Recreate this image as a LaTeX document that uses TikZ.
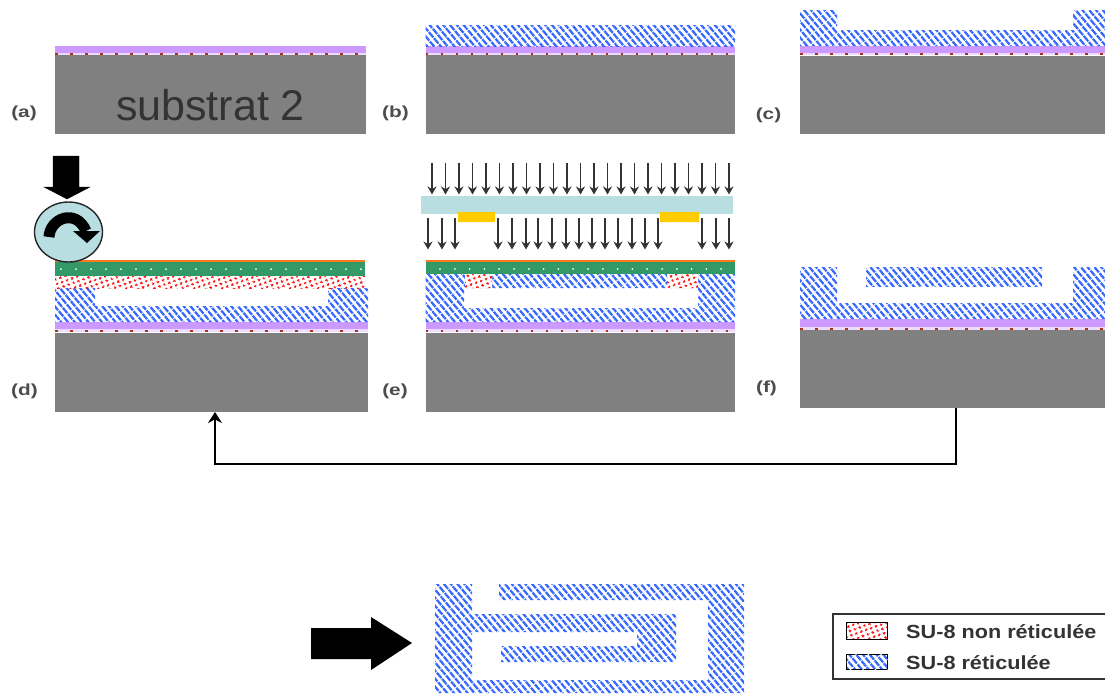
\documentclass[tikz,border=0pt]{standalone}
\usepackage{fontspec}
\setmainfont{Liberation Sans}
\usetikzlibrary{patterns.meta,arrows.meta,shapes.geometric}
\definecolor{subgray}{RGB}{128,128,128}
\definecolor{lilac}{RGB}{204,153,255}
\definecolor{hatchblue}{RGB}{51,102,255}
\definecolor{sealgreen}{RGB}{51,153,102}
\definecolor{maskblue}{RGB}{184,222,226}
\definecolor{maskgold}{RGB}{255,204,0}
\definecolor{topline}{RGB}{255,120,30}
\definecolor{seedred}{RGB}{170,50,20}
\begin{document}
\begin{tikzpicture}[x=1pt,y=-1pt,line width=.35pt,
  sub/.style={fill=subgray},
  lil/.style={fill=lilac},
  cured/.style={pattern={Lines[angle=-50,distance=5.2pt,line width=2.2pt]},pattern color=hatchblue,
    postaction={pattern={Lines[angle=40,distance=8pt,line width=.8pt]},pattern color=white}},
  uncured/.style={pattern={Dots[angle=20,distance=5.4pt,radius=1.7pt]},pattern color=red},
  seed/.style={draw=seedred,line width=2pt,dash pattern=on 2.5pt off 12.5pt},
  tag/.style={font=\fontsize{16}{18}\selectfont\bfseries,text=black!70,inner sep=0pt,xscale=1.3,transform shape},
  legtext/.style={font=\fontsize{19}{21}\selectfont\bfseries,text=black!80,inner sep=0pt,anchor=west,xscale=1.14,transform shape},
  swatch/.style={draw=black,line width=1pt,minimum width=41pt,inner sep=0pt},
  ray/.style={line width=1.8pt,black!80,-{Stealth[length=8pt,width=9pt]}}]
\useasboundingbox (0,0) rectangle (1105,694);
% (a)
\fill[sub] (55,55) rectangle (366,134);
\fill[lil] (55,46) rectangle (366,53);
\fill[lilac!35] (55,53) rectangle (366,55);
\draw[seed] (55,54)--(366,54);
\node[font=\fontsize{43}{46}\selectfont,text=black!80,inner sep=0pt] (subtxt) at (210.5,105) {substrat 2};
\node[tag] (la) at (24,113) {(a)};
% (b)
\fill[sub] (425.5,55) rectangle (735,134);
\fill[lil] (425.5,46) rectangle (735,53);
\fill[lilac!35] (425.5,53) rectangle (735,55);
\draw[seed] (425.5,54)--(735,54);
\fill[cured] (425.5,25) rectangle (735,46);
\node[tag] (lb) at (395.5,113) {(b)};
% (c)
\fill[sub] (800,56) rectangle (1105,134);
\fill[lil] (800,46) rectangle (1105,53);
\fill[lilac!35] (800,53) rectangle (1105,55);
\draw[seed] (800,54)--(1105,54);
\fill[cured] (800,10)--(837,10)--(837,30)--(1073,30)--(1073,10)--(1105,10)--(1105,46)--(800,46)--cycle;
\node[tag] (lc) at (768.5,115) {(c)};
% (d)
\fill[sub] (55,333) rectangle (368,412);
\fill[lil] (55,322) rectangle (368,329);
\fill[lilac!35] (55,329) rectangle (368,332);
\draw[seed] (55,331)--(368,331);
\fill[cured] (55,288)--(95,288)--(95,306)--(328,306)--(328,288)--(368,288)--(368,322)--(55,322)--cycle;
\fill[uncured] (55,276) rectangle (365,288);
\fill[sealgreen] (55,262) rectangle (365,276);
\fill[topline] (55,260) rectangle (365,262);
\foreach \i in {0,...,20} \fill[white] (61+\i*15,269) circle (1pt);
\node[tag] (ld) at (24.5,391) {(d)};
\draw[fill=black] (53,156)--(79,156)--(79,187)--(90,187)--(67,199)--(44,187)--(53,187)--cycle;
\node[ellipse,draw=black!85,line width=1.4pt,fill=maskblue,minimum width=68pt,minimum height=60pt,inner sep=0pt] (roll) at (68.5,232) {};
\draw[line width=11pt] (49,237) .. controls (50,218) and (76,208) .. (86,231);
\fill (100,231)--(87,243)--(73,231)--cycle;
% (e)
\fill[sub] (425.5,333) rectangle (735,412);
\fill[lil] (425.5,322) rectangle (735,329);
\fill[lilac!35] (425.5,329) rectangle (735,332);
\draw[seed] (425.5,331)--(735,331);
\fill[cured] (425.5,274)--(735,274)--(735,322)--(425.5,322)--(425.5,274)
  (464,288)--(464,308)--(698,308)--(698,288)--cycle;
\fill[white] (465,274) rectangle (492,288) (667,274) rectangle (698,288);
\fill[uncured] (465,274) rectangle (492,288) (667,274) rectangle (698,288);
\fill[sealgreen] (425.5,262) rectangle (735,274);
\fill[topline] (425.5,260) rectangle (735,262);
\foreach \i in {0,...,20} \fill[white] (440+\i*14.8,269) circle (1pt);
\fill[maskblue] (421,196) rectangle (733,214);
\fill[maskgold] (458,212) rectangle (495,222) (660,212) rectangle (699,222);
\foreach \i in {0,...,22} \draw[ray] (432+\i*13.5,163)--(432+\i*13.5,194.5);
\foreach \xa in {428,442,455,498,512,526,538,552,566,579,592,605,618,632,645,658,702,716,729}
  \draw[ray] (\xa,218)--(\xa,249.5);
\node[tag] (le) at (395,391) {(e)};
% (f)
\fill[sub] (800,330) rectangle (1105,408);
\fill[lil] (800,319) rectangle (1105,327);
\fill[lilac!35] (800,327) rectangle (1105,330);
\draw[seed] (800,329)--(1105,329);
\fill[cured] (800,267)--(837,267)--(837,303)--(1073,303)--(1073,267)--(1105,267)--(1105,319)--(800,319)--cycle;
\fill[cured] (866,267) rectangle (1042,286);
\node[tag] (lf) at (766.5,388) {(f)};
% return path
\coordinate (from) at (956,408);
\coordinate (to) at (215,412);
\draw[line width=1.6pt,-{Stealth[length=11pt,width=14pt]}] (from)--(956,464)--(215,464)--(to);
% top view
\fill[cured,even odd rule] (435,584)--(472,584)--(472,614)--(676,614)--(676,662)--(501,662)--(501,646)--(637,646)--(637,632)--(472,632)--(472,680)--(708,680)--(708,600)--(499,600)--(499,584)--(744,584)--(744,693)--(435,693)--cycle;
\fill (311,628)--(371,628)--(371,617)--(412,643)--(371,670)--(371,659)--(311,659)--cycle;
% legend
\draw[line width=1.2pt,black!80] (833,614) rectangle (1110,679);
\node[swatch,minimum height=17pt,uncured] (s1) at (867,631) {};
\node[swatch,minimum height=15pt,cured] (s2) at (867,662) {};
\node[legtext] (t1) at (906,631.5) {SU-8 non réticulée};
\node[legtext] (t2) at (906,663) {SU-8 réticulée};
\end{tikzpicture}
\end{document}
